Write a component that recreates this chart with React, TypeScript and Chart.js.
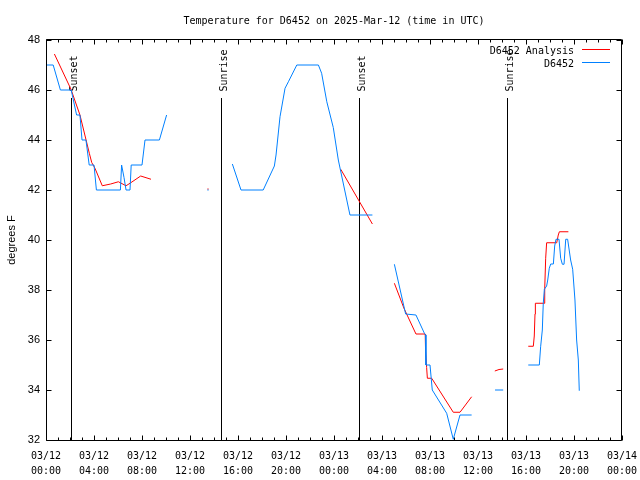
import React, { useEffect, useRef } from "react";
import { Chart, registerables } from "chart.js";

Chart.register(...registerables);

const chartTitle = "Temperature for D6452 on 2025-Mar-12 (time in UTC)";
const yAxisTitle = "degrees F";
const seriesNames = ["D6452 Analysis", "D6452"];
const seriesColors = ["#ff0000", "#0080ff"];

const xTickLabels = [
  ["03/12", "00:00"], ["03/12", "04:00"], ["03/12", "08:00"], ["03/12", "12:00"],
  ["03/12", "16:00"], ["03/12", "20:00"], ["03/13", "00:00"], ["03/13", "04:00"],
  ["03/13", "08:00"], ["03/13", "12:00"], ["03/13", "16:00"], ["03/13", "20:00"],
  ["03/14", "00:00"],
];

// hours since 03/12 00:00 UTC; null temperature = gap in the record
const analysisHours = [
  0.7, 2.08, 2.83, 3.61, 3.81, 4.08, 4.69, 5.39, 6.03, 6.67, 7.0, 7.89, 8.75,
  11,
  13.45, 13.55,
  19,
  24.56, 27.2,
  28,
  29.03, 29.83, 30.83, 31.6, 31.63, 31.72, 31.78, 32.14, 33.94, 34.5, 35.47,
  36.5,
  37.4, 37.75, 38.1,
  39,
  40.19, 40.61, 40.69, 40.75, 40.78, 41.5, 41.56, 41.64, 41.72, 42.56, 42.69, 42.78, 43.53,
];
const analysisTemps = [
  47.44, 46.03, 45.0, 43.47, 43.1, 42.87, 42.17, 42.24, 42.33, 42.17, 42.27, 42.56, 42.43,
  null,
  42.04, 42.04,
  null,
  42.83, 40.64,
  null,
  38.27, 37.27, 36.24, 36.24, 35.6, 34.9, 34.47, 34.47, 33.11, 33.11, 33.73,
  null,
  34.76, 34.82, 34.84,
  null,
  35.75, 35.75, 36.16, 37.04, 37.47, 37.47, 38.07, 39.27, 39.89, 39.89, 40.2, 40.33, 40.33,
];

const stationHours = [
  0, 0.6, 1.2, 2.1, 2.55, 2.83, 3.0, 3.33, 3.6, 4.0, 4.2, 6.2, 6.3, 6.5, 6.67, 7.0, 7.1, 8.0, 8.25, 9.45, 10.05,
  12,
  13.45, 13.55,
  14.5,
  15.53, 16.25, 18.1, 19.03, 19.17, 19.5, 19.92, 20.2, 20.9, 22.7, 22.97, 23.4, 23.94, 24.36, 25.33, 27.2,
  28,
  29.03, 29.97, 30.83, 31.53, 31.64, 31.66, 32.0, 32.19, 33.39, 33.94, 34.5, 35.47,
  36.5,
  37.42, 38.1,
  39,
  40.19, 41.11, 41.22, 41.36, 41.44, 41.53, 41.72, 41.81, 41.94, 42.06, 42.28, 42.39, 42.5, 42.75,
  42.89, 43.03, 43.17, 43.31, 43.47, 43.72, 43.89, 44.08, 44.22, 44.36, 44.44,
];
const stationTemps = [
  47, 47, 46, 46, 45, 45, 44, 44, 43, 43, 42, 42, 43, 42.5, 42, 42, 43, 43, 44, 44, 45,
  null,
  42, 42,
  null,
  43.04, 42, 42, 42.96, 43.4, 44.93, 46.07, 46.33, 47, 47, 46.67, 45.53, 44.5, 43.2, 41, 41,
  null,
  39.03, 37.04, 37, 36.27, 36.2, 35, 35, 34, 33.07, 32.03, 33, 33,
  null,
  34, 34,
  null,
  35, 35, 35.73, 36.4, 37.47, 38.03, 38.16, 38.4, 38.87, 39.04, 39.04, 39.76, 40.03, 40.03,
  39.27, 39.03, 39.03, 40.03, 40.03, 39.2, 38.83, 37.6, 36, 35.2, 33.97,
];

const eventHours = [2.1, 14.55, 26.1, 38.45];
const eventLabels = ["Sunset", "Sunrise", "Sunset", "Sunrise"];

const MONO = "'DejaVu Sans Mono', monospace";
const SANS = "'Liberation Sans', Arial, sans-serif";

const decorPlugin = {
  id: "decor",
  beforeDatasetsDraw(chart: any) {
    const { ctx, chartArea: a, scales } = chart;
    const x = scales.x;
    ctx.save();
    ctx.strokeStyle = "#000";
    ctx.fillStyle = "#000";
    ctx.lineWidth = 1;
    ctx.font = `10px ${MONO}`;
    eventHours.forEach((h, i) => {
      const px = Math.round(x.getPixelForValue(h)) + 0.5;
      ctx.beginPath();
      ctx.moveTo(px, a.top + 58);
      ctx.lineTo(px, a.bottom);
      ctx.stroke();
      ctx.save();
      ctx.translate(px + 5, a.top + 51.5);
      ctx.rotate(-Math.PI / 2);
      ctx.textAlign = "left";
      ctx.textBaseline = "alphabetic";
      ctx.fillText(eventLabels[i], 0, 0);
      ctx.restore();
    });
    ctx.restore();
  },
  afterDatasetsDraw(chart: any) {
    const { ctx, chartArea: a, scales } = chart;
    const x = scales.x;
    const y = scales.y;
    ctx.save();
    ctx.strokeStyle = "#000";
    ctx.fillStyle = "#000";
    ctx.lineWidth = 1;
    const L = a.left + 0.5;
    const R = a.right - 0.5;
    const T = a.top - 0.5;
    const B = a.bottom + 0.5;
    ctx.beginPath();
    ctx.rect(L, T, R - L, B - T);
    ctx.stroke();
    // ticks (inward, both sides)
    ctx.beginPath();
    for (let h = x.min; h <= x.max; h += 1) {
      const px = Math.round(x.getPixelForValue(h)) + 0.5;
      const len = h % 4 === 0 ? 5 : 3;
      ctx.moveTo(px, B);
      ctx.lineTo(px, B - len);
      ctx.moveTo(px, T);
      ctx.lineTo(px, T + len);
    }
    y.ticks.forEach((t: any) => {
      const py = Math.round(y.getPixelForValue(t.value)) + 0.5;
      ctx.moveTo(L, py);
      ctx.lineTo(L + 5, py);
      ctx.moveTo(R, py);
      ctx.lineTo(R - 5, py);
    });
    ctx.stroke();

    // title
    ctx.font = `10px ${MONO}`;
    ctx.textAlign = "center";
    ctx.textBaseline = "alphabetic";
    ctx.fillText(chartTitle, (a.left + a.right) / 2, 24);

    // y-axis title
    ctx.save();
    ctx.font = `11px ${SANS}`;
    ctx.translate(14.5, (a.top + a.bottom) / 2);
    ctx.rotate(-Math.PI / 2);
    ctx.textAlign = "center";
    ctx.fillText(yAxisTitle, 0, 0);
    ctx.restore();

    // legend
    ctx.font = `10px ${MONO}`;
    ctx.textAlign = "right";
    seriesNames.forEach((name, i) => {
      const ly = a.top + 9.5 + i * 13;
      ctx.fillStyle = "#000";
      ctx.fillText(name, a.right - 48, ly + 4);
      ctx.strokeStyle = seriesColors[i];
      ctx.beginPath();
      ctx.moveTo(a.right - 40, ly);
      ctx.lineTo(a.right - 12, ly);
      ctx.stroke();
    });
    ctx.restore();
  },
};

function toPoints(hours: number[], temps: (number | null)[]) {
  return hours.map((h, i) => ({ x: h, y: temps[i] }));
}

export default function App() {
  const ref = useRef<HTMLCanvasElement | null>(null);
  useEffect(() => {
    if (!ref.current) return;
    const chart = new Chart(ref.current, {
      type: "line",
      data: {
        datasets: [
          {
            label: seriesNames[0],
            data: toPoints(analysisHours, analysisTemps) as any,
            borderColor: seriesColors[0],
            backgroundColor: seriesColors[0],
            borderWidth: 1,
            pointRadius: 0,
            tension: 0,
            spanGaps: false,
            order: 1,
          },
          {
            label: seriesNames[1],
            data: toPoints(stationHours, stationTemps) as any,
            borderColor: seriesColors[1],
            backgroundColor: seriesColors[1],
            borderWidth: 1,
            pointRadius: 0,
            tension: 0,
            spanGaps: false,
            order: 0,
          },
        ],
      },
      options: {
        animation: false,
        responsive: true,
        maintainAspectRatio: false,
        layout: { padding: { left: 0, top: 40, right: 18, bottom: 0 } },
        plugins: {
          legend: { display: false },
          tooltip: { enabled: false },
          title: { display: false },
        },
        scales: {
          x: {
            type: "linear",
            min: 0,
            max: 48,
            border: { display: false },
            grid: { display: false, drawTicks: false },
            ticks: {
              stepSize: 4,
              padding: 9,
              autoSkip: false,
              maxRotation: 0,
              color: "#000",
              font: { family: MONO, size: 10, lineHeight: 1.5 },
              callback: (v: any) => xTickLabels[Math.round(Number(v) / 4)],
            },
            afterFit: (s: any) => {
              s.height = 40;
              s.paddingLeft = 0;
              s.paddingRight = 0;
            },
          },
          y: {
            type: "linear",
            min: 32,
            max: 48,
            border: { display: false },
            grid: { display: false, drawTicks: false },
            ticks: {
              stepSize: 2,
              padding: 6,
              color: "#000",
              font: { family: SANS, size: 11 },
            },
            afterFit: (s: any) => {
              s.width = 46;
              s.paddingTop = 0;
              s.paddingBottom = 0;
            },
          },
        },
      },
      plugins: [decorPlugin],
    });
    return () => chart.destroy();
  }, []);
  return (
    <div style={{ position: "fixed", left: 0, top: 0, width: 640, height: 480, background: "#fff" }}>
      <canvas ref={ref} />
    </div>
  );
}
